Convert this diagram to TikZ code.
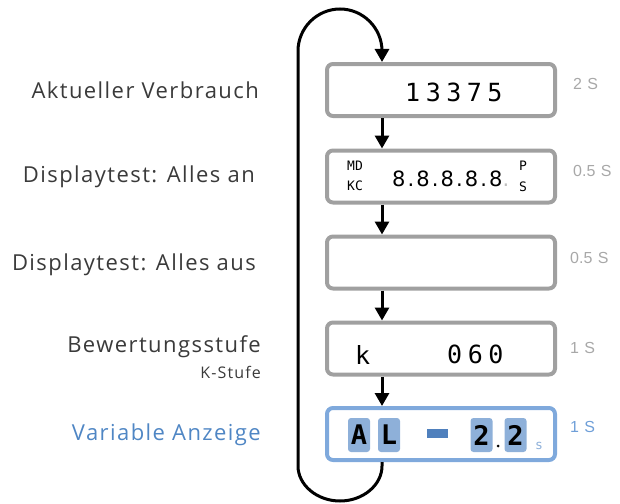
\documentclass[tikz,border=0pt]{standalone}
\usepackage{fontspec}
\setmainfont{Open Sans}
\newfontfamily\lcd{DejaVu Sans Mono}
\newfontfamily\lcdp{DejaVu Sans}
\newfontfamily\timefont{Liberation Sans}
\usetikzlibrary{arrows.meta,calc}
\definecolor{boxgray}{HTML}{A0A0A0}
\definecolor{boxblue}{HTML}{7FA9DC}
\definecolor{labgray}{HTML}{3A3A3A}
\definecolor{labblue}{HTML}{4F86C4}
\definecolor{timegray}{HTML}{A8A8A8}
\definecolor{timeblue}{HTML}{6F9FD8}
\definecolor{hlblue}{HTML}{8EB0D9}
\definecolor{dashblue}{HTML}{4F80BD}
\begin{document}
\begin{tikzpicture}[x=1pt,y=-1pt,
  dispbox/.style={draw=boxgray,line width=4pt,rounded corners=6pt,minimum width=228pt,minimum height=52pt,inner sep=0pt},
  bluebox/.style={dispbox,draw=boxblue},
  flow/.style={line width=3pt,-{Triangle[length=13pt,width=14pt]}},
  lab/.style={anchor=base east,inner sep=0pt,text=labgray,font=\fontsize{22}{25}\selectfont\addfontfeature{LetterSpace=6.5}},
  sublab/.style={anchor=base east,inner sep=0pt,text=labgray,font=\fontsize{16}{18}\selectfont\addfontfeature{LetterSpace=7}},
  tlab/.style={anchor=base west,inner sep=0pt,text=timegray,font=\timefont\fontsize{16}{18}\selectfont},
  digits/.style={anchor=base west,inner sep=0pt,font=\lcd\fontsize{25}{28}\selectfont\addfontfeature{LetterSpace=22}},
  small/.style={anchor=base west,inner sep=0pt,font=\lcd\fontsize{13}{14}\selectfont},
  hl/.style={fill=hlblue,rounded corners=3pt,minimum width=22pt,minimum height=34pt,inner sep=0pt,font=\lcd\bfseries\fontsize{27}{28}\selectfont}
]
\useasboundingbox (0,0) rectangle (620,503);

% display boxes
\node[dispbox] (b1) at (441,90) {};
\node[dispbox] (b2) at (441,176.5) {};
\node[dispbox] (b3) at (441,262.5) {};
\node[dispbox] (b4) at (441,348.5) {};
\node[bluebox] (b5) at (441,434) {};

% left labels
\node[lab] (l1) at (259,98) {Aktueller Verbrauch};
\node[lab] (l2) at (255,182) {Displaytest: Alles an};
\node[lab] (l3) at (256,270) {Displaytest: Alles aus};
\node[lab] (l4) at (261,352) {Bewertungsstufe};
\node[sublab] (l4b) at (261,378) {K-Stufe};
\node[lab,text=labblue] (l5) at (261,440) {Variable Anzeige};

% time labels
\node[tlab] (t1) at (573,89) {2\,\,S};
\node[tlab] (t2) at (573,176) {0.5\,\,S};
\node[tlab] (t3) at (570,263) {0.5\,\,S};
\node[tlab] (t4) at (570,353) {1\,\,S};
\node[tlab,text=timeblue] (t5) at (570,432) {1\,\,S};

% display contents
\node[digits] (d1) at (405,101) {13375};
\node[small] (d2a) at (347,170) {MD};
\node[small] (d2b) at (347,190) {KC};
\node[anchor=base west,inner sep=0pt,font=\lcdp\fontsize{21}{24}\selectfont\addfontfeature{LetterSpace=10}] (d2c) at (392,186) {8.8.8.8.8\textcolor{black!25}{.}};
\node[small] (d2d) at (519,170) {P};
\node[small] (d2e) at (519,191) {S};
\node[digits] (d4a) at (355,364) {k};
\node[digits] (d4b) at (447,363) {060};

\node[hl] (h1) at (359,435) {A};
\node[hl] (h2) at (389,435) {L};
\node[fill=dashblue,minimum width=21pt,minimum height=9pt,inner sep=0pt] (h3) at (437.5,433.5) {};
\node[hl] (h4) at (481.5,435) {2};
\node[circle,fill=black,inner sep=0pt,minimum size=3pt] (h5) at (498,446) {};
\node[hl] (h6) at (515.5,435) {2};
\node[anchor=base west,inner sep=0pt,text=hlblue,font=\lcd\fontsize{13}{14}\selectfont] (h7) at (535,449) {s};

% connectors
\coordinate (ax) at (382,0);
\draw[flow] (b1.south -| ax) -- (b2.north -| ax);
\draw[flow] (b2.south -| ax) -- (b3.north -| ax);
\draw[flow] (b3.south -| ax) -- (b4.north -| ax);
\draw[flow] (b4.south -| ax) -- (b5.north -| ax);
\draw[flow] (b5.south -| ax) -- (382,466)
  .. controls (382,485) and (363,501) .. (340,501)
  .. controls (317,501) and (298,485) .. (298,466)
  -- (298,51)
  .. controls (298,28) and (317,9) .. (340,9)
  .. controls (363,9) and (382,28) .. (382,51)
  -- (b1.north -| ax);
\end{tikzpicture}
\end{document}
